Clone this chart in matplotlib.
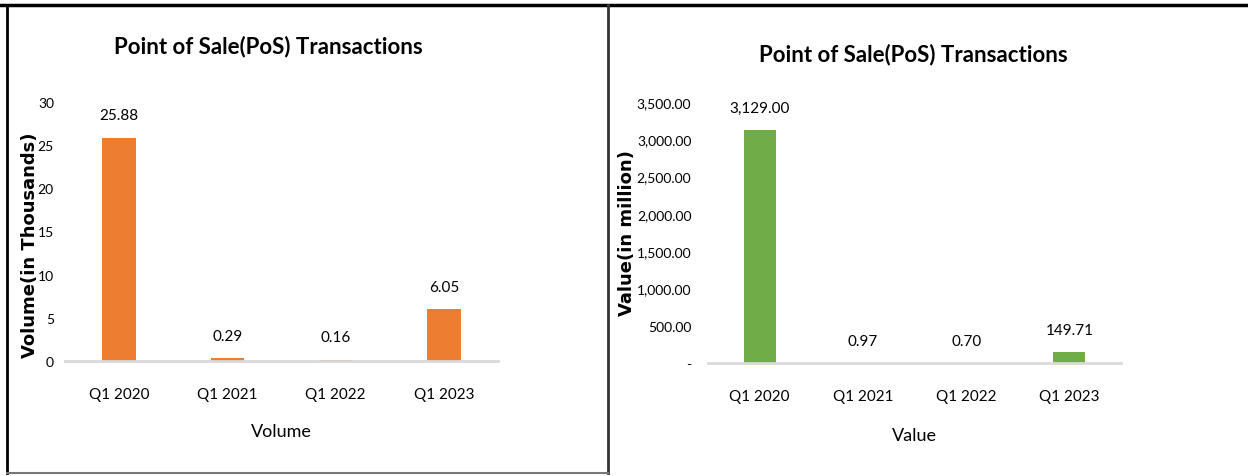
import matplotlib.pyplot as plt
from matplotlib.lines import Line2D
from matplotlib.ticker import FuncFormatter

# Data
quarters = ['Q1 2020', 'Q1 2021', 'Q1 2022', 'Q1 2023']
volume = [25.88, 0.29, 0.16, 6.05]
value = [3129.00, 0.97, 0.70, 149.71]
volume_ticks = [0, 5, 10, 15, 20, 25, 30]
value_ticks = [0, 500, 1000, 1500, 2000, 2500, 3000, 3500]

TITLE = 'Point of Sale(PoS) Transactions'
ORANGE = '#ed7d31'
GREEN = '#70ad47'

plt.rcParams['font.family'] = ['Lato', 'DejaVu Sans']

fig = plt.figure(figsize=(12.48, 4.77), dpi=100)
W, H = 1248, 477


def px(x0, y0, x1, y1):
    # pixel box (top-left origin) -> figure fraction rect
    return [x0 / W, 1 - y1 / H, (x1 - x0) / W, (y1 - y0) / H]


def style_axes(ax, top, ypad):
    for side in ['top', 'right', 'left']:
        ax.spines[side].set_visible(False)
    ax.spines['bottom'].set_color('#d9d9d9')
    ax.spines['bottom'].set_linewidth(2)
    ax.tick_params(axis='both', length=0)
    ax.tick_params(axis='x', pad=19, labelsize=11)
    ax.tick_params(axis='y', pad=ypad, labelsize=10)
    ax.set_xlim(-0.5, 3.5)
    ax.set_ylim(0, top)


def label_bars(ax, bars, vals, fmt):
    for b, v in zip(bars, vals):
        ax.annotate(fmt.format(v), (b.get_x() + b.get_width() / 2, v),
                    xytext=(0, 16), textcoords='offset points',
                    ha='center', va='center', fontsize=11)


# left panel: volume
ax1 = fig.add_axes(px(65, 103, 498, 362))
bars = ax1.bar(quarters, volume, width=0.31, color=ORANGE)
style_axes(ax1, 30, 8)
ax1.set_yticks(volume_ticks)
label_bars(ax1, bars, volume, '{:.2f}')
ax1.set_xlabel('Volume', fontsize=13)
ax1.xaxis.set_label_coords(0.50, -0.24)
ax1.set_ylabel('Volume(in Thousands)', fontsize=13, fontweight='bold',
               family='DejaVu Sans')
ax1.yaxis.set_label_coords(-0.06, 0.45)
fig.text(268 / W, 1 - 47 / H, TITLE, fontsize=16, fontweight='bold',
         ha='center', va='center')

# right panel: value
ax2 = fig.add_axes(px(708, 103, 1121, 364))
bars = ax2.bar(quarters, value, width=0.31, color=GREEN)
style_axes(ax2, 3500, 12)
ax2.set_yticks(value_ticks)
ax2.yaxis.set_major_formatter(FuncFormatter(
    lambda v, p: '-' if v == 0 else '{:,.2f}'.format(v)))
label_bars(ax2, bars, value, '{:,.2f}')
ax2.set_xlabel('Value', fontsize=13)
ax2.xaxis.set_label_coords(0.50, -0.245)
ax2.set_ylabel('Value(in million)', fontsize=13, fontweight='bold',
               family='DejaVu Sans')
ax2.yaxis.set_label_coords(-0.175, 0.50)
fig.text(913 / W, 1 - 55 / H, TITLE, fontsize=16, fontweight='bold',
         ha='center', va='center')

# frame lines around the screenshot panels
fig.add_artist(Line2D([0, 1], [1 - 6 / H] * 2, color='black', lw=2.5,
                      transform=fig.transFigure))
fig.add_artist(Line2D([7 / W] * 2, [1 - 6 / H, 1 - 474 / H], color='black',
                      lw=2, transform=fig.transFigure))
fig.add_artist(Line2D([608 / W] * 2, [1 - 6 / H, 1 - 474 / H], color='#333333',
                      lw=2, transform=fig.transFigure))
fig.add_artist(Line2D([7 / W, 608 / W], [1 - 474 / H] * 2, color='#777777',
                      lw=1.5, transform=fig.transFigure))

fig.savefig('out.png', dpi=100)
